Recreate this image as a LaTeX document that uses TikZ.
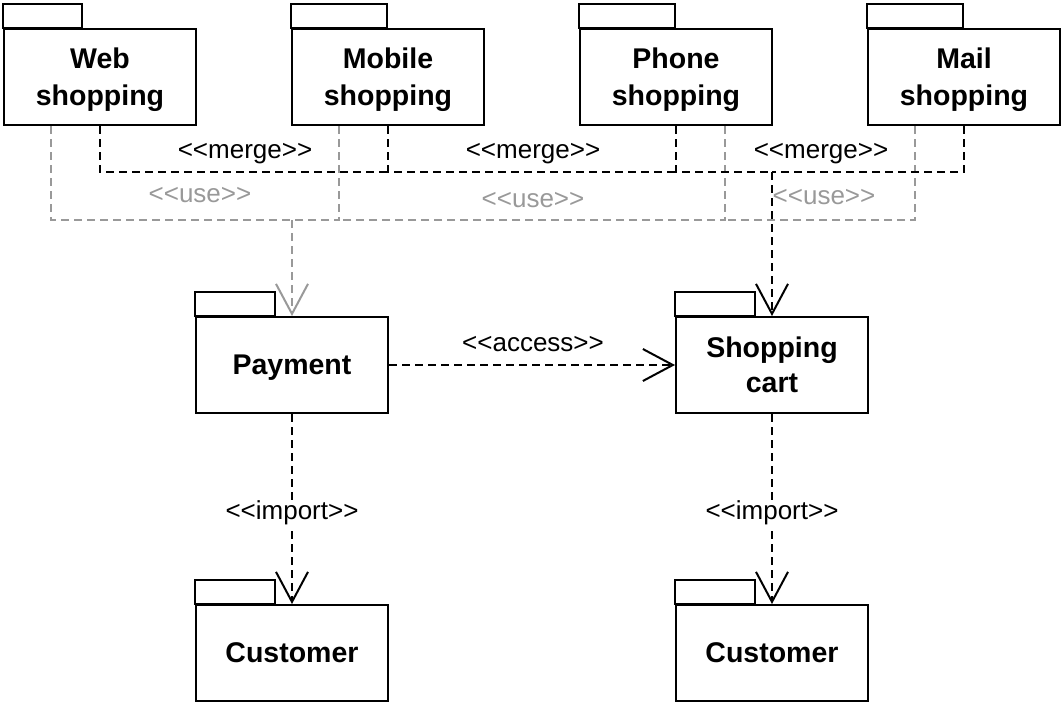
\documentclass[tikz,border=0pt]{standalone}
\usepackage{fontspec}
\setmainfont{Liberation Sans}
\usetikzlibrary{arrows.meta}
\definecolor{usegray}{RGB}{153,153,153}
\newcommand\lguil{<\kern0pt<}
\newcommand\rguil{>\kern0pt>}
\begin{document}
\begin{tikzpicture}[x=1pt,y=-1pt,
  pkgbody/.style={draw,line width=2pt,minimum width=192pt,minimum height=96pt,inner sep=0pt,align=center,font=\fontsize{28.5}{37}\selectfont\bfseries},
  pkgtext/.style={inner sep=0pt,align=center,font=\fontsize{28.5}{37}\selectfont\bfseries},
  onepkg/.style={pkgbody,text height=18pt,text depth=0pt},
  tabline/.style={line width=2pt},
  dep/.style={line width=2pt,dash pattern=on 8pt off 5pt},
  mergeline/.style={dep,draw=black},
  useline/.style={dep,draw=usegray},
  openarrow/.style={-{Straight Barb[length=30pt,width=32pt]}},
  lbl/.style={font=\fontsize{26}{30}\selectfont,inner sep=1pt},
  uselbl/.style={lbl,text=usegray}]
\useasboundingbox (0,0) rectangle (1063,705);

% packages
\node[pkgbody] (web) at (100,77) {};
\node[pkgbody] (mobile) at (388,77) {};
\node[pkgbody] (phone) at (676,77) {};
\node[pkgbody] (mail) at (964,77) {};
\node[pkgtext] (webt) at ([yshift=-2.5pt]web.center) {Web\\shopping};
\node[pkgtext] (mobilet) at ([yshift=-2.5pt]mobile.center) {Mobile\\shopping};
\node[pkgtext] (phonet) at ([yshift=-2.5pt]phone.center) {Phone\\shopping};
\node[pkgtext] (mailt) at ([yshift=-2.5pt]mail.center) {Mail\\shopping};
\node[onepkg] (payment) at (292,365) {Payment};
\node[pkgbody,font=\fontsize{28.5}{35}\selectfont\bfseries] (cart) at (772,365) {Shopping\\cart};
\node[onepkg] (cust1) at (292,653) {Customer};
\node[onepkg] (cust2) at (772,653) {Customer};

% tabs
\draw[tabline] (web.north west) rectangle ([xshift=79pt,yshift=24pt]web.north west);
\draw[tabline] (mobile.north west) rectangle ([xshift=96pt,yshift=24pt]mobile.north west);
\draw[tabline] (phone.north west) rectangle ([xshift=96pt,yshift=24pt]phone.north west);
\draw[tabline] (mail.north west) rectangle ([xshift=96pt,yshift=24pt]mail.north west);
\draw[tabline] (payment.north west) rectangle ([xshift=80pt,yshift=24pt]payment.north west);
\draw[tabline] (cart.north west) rectangle ([xshift=80pt,yshift=24pt]cart.north west);
\draw[tabline] (cust1.north west) rectangle ([xshift=80pt,yshift=24pt]cust1.north west);
\draw[tabline] (cust2.north west) rectangle ([xshift=80pt,yshift=24pt]cust2.north west);

% use dependencies (gray)
\coordinate (uj) at (292,220);
\coordinate (uj1) at (340,220);
\coordinate (uj2) at (724,220);
\draw[useline] ([xshift=48pt]web.south west) |- (uj);
\draw[useline] ([xshift=48pt]mobile.south west) |- (uj);
\draw[useline] ([xshift=-48pt]phone.south east) |- (uj1);
\draw[useline] ([xshift=48pt]mail.south west) |- (uj2);
\draw[useline,openarrow] (uj) -- (payment.north);

% merge dependencies (black)
\coordinate (mj) at (772,172);
\coordinate (mj1) at (388,172);
\coordinate (mj2) at (676,172);
\draw[mergeline] (web.south) |- (mj1);
\draw[mergeline] (mobile.south) |- (mj2);
\draw[mergeline] (phone.south) |- (mj);
\draw[mergeline] (mail.south) |- (mj);
\draw[mergeline,openarrow] (mj) -- (cart.north);

% access and import
\draw[mergeline,openarrow] (payment.east) -- (cart.west);
\draw[mergeline,openarrow] (payment.south) -- (cust1.north);
\draw[mergeline,openarrow] (cart.south) -- (cust2.north);

% labels
\node[lbl] (m1) at (245,154) {\lguil merge\rguil};
\node[lbl] (m2) at (533,154) {\lguil merge\rguil};
\node[lbl] (m3) at (821,154) {\lguil merge\rguil};
\node[uselbl] (u1) at (200,195) {\lguil use\rguil};
\node[uselbl] (u2) at (533,200) {\lguil use\rguil};
\node[uselbl] (u3) at (824,197) {\lguil use\rguil};
\node[lbl] (acc) at (533,344) {\lguil access\rguil};
\node[lbl,fill=white] (imp1) at (292,513) {\lguil import\rguil};
\node[lbl,fill=white] (imp2) at (772,513) {\lguil import\rguil};
\end{tikzpicture}
\end{document}
